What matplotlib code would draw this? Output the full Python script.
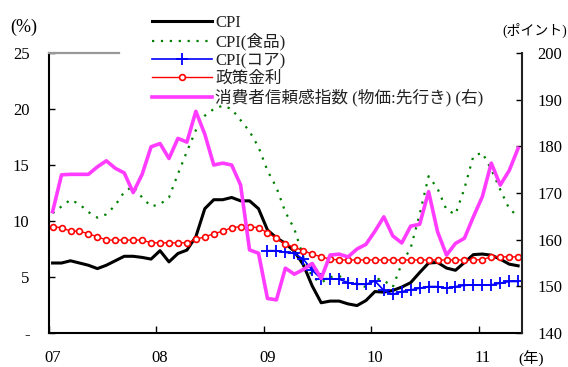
import matplotlib
matplotlib.use("Agg")
import matplotlib.pyplot as plt
import numpy as np

plt.rcParams['font.family'] = ['Liberation Serif', 'Noto Sans CJK JP']
plt.rcParams['font.size'] = 12

# monthly series, Jan 2007 .. May 2011
cpi = [6.25, 6.25, 6.45, 6.25, 6.05, 5.75, 6.05, 6.45, 6.85, 6.85, 6.75, 6.6,
       7.35, 6.35, 7.1, 7.4, 8.6, 11.1, 11.9, 11.9, 12.1, 11.8, 11.8, 11.1,
       9.2, 8.5, 8.0, 7.3, 6.1, 4.2, 2.7, 2.85, 2.85, 2.6, 2.45, 2.9,
       3.7, 3.65, 3.8, 4.1, 4.5, 5.4, 6.25, 6.3, 5.8, 5.6, 6.3, 7.0,
       7.05, 6.95, 6.6, 6.15, 6.0]
cpi_food = [10.7, 11.3, 11.9, 11.5, 10.8, 10.3, 10.6, 11.4, 12.6, 13.1, 12.1, 11.3,
            11.5, 12.1, 14.2, 16.2, 18.1, 19.4, 20.0, 20.3, 20.0, 19.0, 18.0, 16.6,
            14.5, 13.0, 10.8, 9.3, 6.8, 5.0, 4.5, 5.0, 5.1, 4.7, 4.4, 4.1,
            4.9, 4.7, 4.1, 6.2, 7.6, 10.6, 14.0, 12.9, 11.0, 10.6, 12.9, 15.8,
            16.1, 14.6, 12.8, 11.1, 10.4]
cpi_core = [np.nan] * 24 + [
            7.35, 7.35, 7.2, 7.1, 6.6, 5.6, 4.85, 4.85, 4.8, 4.5, 4.35, 4.35,
            4.65, 3.8, 3.45, 3.7, 3.85, 4.0, 4.15, 4.15, 4.0, 4.15, 4.25, 4.3,
            4.3, 4.3, 4.45, 4.6, 4.6]
policy_rate = [9.5, 9.4, 9.1, 9.1, 8.85, 8.6, 8.3, 8.3, 8.3, 8.3, 8.3, 8.05,
               8.05, 8.05, 8.05, 8.05, 8.35, 8.6, 8.85, 9.1, 9.4, 9.5, 9.5, 9.4,
               8.95, 8.45, 7.95, 7.65, 7.35, 7.05, 6.8, 6.6, 6.52, 6.52, 6.52, 6.52,
               6.52, 6.52, 6.52, 6.52, 6.52, 6.52, 6.52, 6.52, 6.52, 6.52, 6.52, 6.52,
               6.55, 6.8, 6.8, 6.8, 6.8]
confidence = [166.0, 173.9, 174.0, 174.0, 174.0, 175.6, 176.9, 175.3, 174.3, 170.1, 174.0, 179.9,
              180.6, 177.4, 181.7, 180.9, 187.5, 182.6, 176.0, 176.4, 176.0, 171.7, 157.8, 157.1,
              147.4, 147.1, 153.9, 152.6, 153.6, 154.9, 151.7, 156.7, 156.9, 156.3, 158.0, 159.0,
              161.8, 164.9, 160.8, 159.3, 162.9, 163.3, 170.3, 161.7, 156.7, 159.2, 160.3, 164.9,
              169.2, 176.4, 171.7, 174.8, 179.6]
year_labels = ['07', '08', '09', '10', '11']

months = np.arange(len(cpi))

fig = plt.figure(figsize=(5.68, 3.67), dpi=100)
ax = fig.add_axes([0.0863, 0.0926, 0.8330, 0.763])
ax2 = ax.twinx()

h_cpi, = ax.plot(months, cpi, color='black', lw=2.2, label='CPI')
h_food, = ax.plot(months, cpi_food, color='#008000', lw=1.6,
                  linestyle=(0, (1, 3)), label='CPI(食品)')
h_core, = ax.plot(months, cpi_core, color='#0000ff', lw=1.2, marker='+',
                  ms=9, mew=1.3, label='CPI(コア)')
h_rate, = ax.plot(months, policy_rate, color='#ff0000', lw=1.0, marker='o',
                  ms=4.2, mfc='white', mec='#ff0000', mew=1.2, label='政策金利')
h_conf, = ax2.plot(months, confidence, color='#ff3cff', lw=2.6,
                   label='消費者信頼感指数 (物価:先行き) (右)')

ax.set_xlim(-0.35, 52.45)
ax.set_ylim(0, 25)
ax2.set_ylim(140, 200)

ax.set_yticks(np.arange(0, 26, 5))
ax.set_yticklabels(['-', '5', '10', '15', '20', '25'])
ax2.set_yticks(np.arange(140, 201, 10))

# year labels sit on January, tick marks just left of it
ax.set_xticks(np.arange(0, 49, 12))
ax.set_xticklabels(year_labels)
ax.set_xticks(np.arange(0, 49, 12) - 0.4, minor=True)
ax.tick_params(axis='x', which='major', length=0, pad=12)
ax.tick_params(axis='x', which='minor', direction='in', length=5, width=1)
ax.tick_params(axis='y', direction='in', length=4, width=1, pad=14)
ax2.tick_params(axis='y', direction='in', length=4, width=1, pad=11)

# spines: only a short grey stub along the top, left of the legend
ax.spines['right'].set_visible(False)
ax.spines['top'].set_color('#999999')
ax.spines['top'].set_linewidth(1.6)
ax.spines['top'].set_bounds(-0.35, 7.4)
ax.spines['left'].set_linewidth(1.5)
ax.spines['bottom'].set_linewidth(1.5)
for s in ('top', 'left', 'bottom'):
    ax2.spines[s].set_visible(False)
ax2.spines['right'].set_linewidth(1.5)
ax2.spines['right'].set_color('#222222')

handles = [h_cpi, h_food, h_core, h_rate, h_conf]
leg = ax2.legend(handles, [h.get_label() for h in handles],
                 loc='upper left', bbox_to_anchor=(0.2676, 0.959),
                 bbox_transform=fig.transFigure,
                 handlelength=3.6, handletextpad=0.2, labelspacing=0.12,
                 borderpad=0.0, borderaxespad=0.0, fontsize=12,
                 frameon=False)
for t in leg.get_texts():
    t.set_color('#222222')

fig.text(0.018, 0.926, '(%)', fontsize=13, va='center')
fig.text(0.884, 0.918, '(ポイント)', fontsize=10, va='center')
fig.text(0.912, 0.022, '(年)', fontsize=11, va='center')

fig.savefig('out.png', dpi=100)
